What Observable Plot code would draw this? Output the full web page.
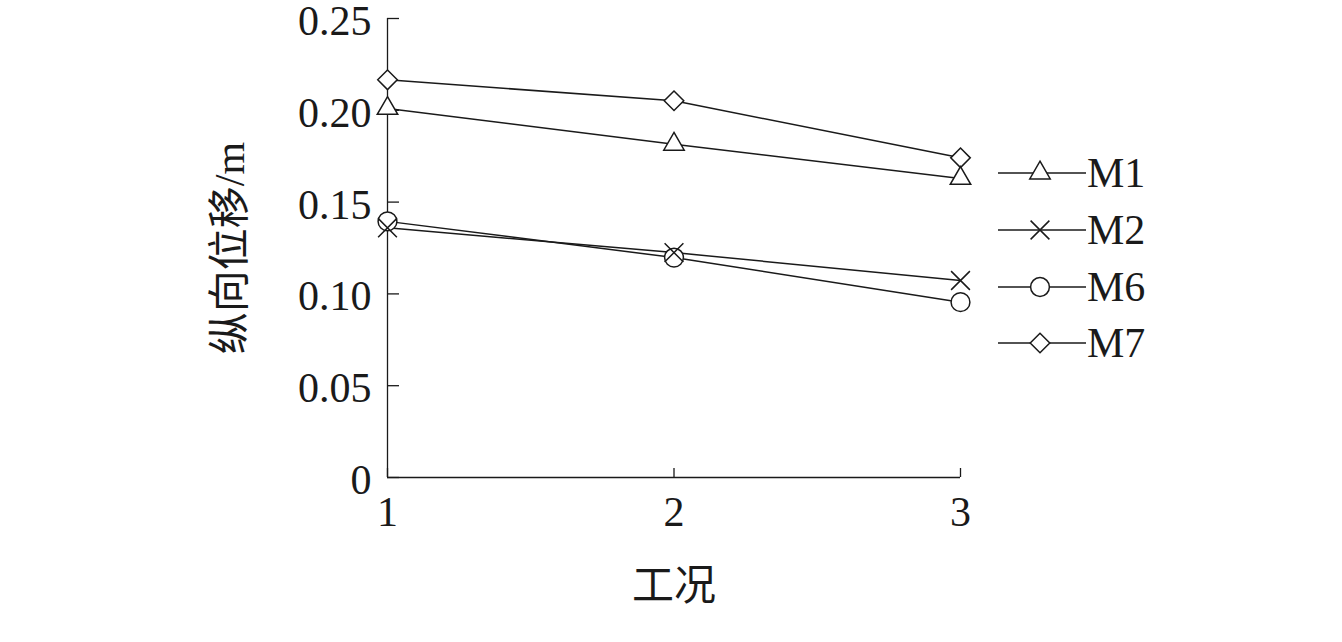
<!DOCTYPE html>
<html>
<head>
<meta charset="utf-8">
<script src="https://cdn.jsdelivr.net/npm/d3@7"></script>
<script src="https://cdn.jsdelivr.net/npm/@observablehq/plot@0.6"></script>
<style>
  html, body { margin: 0; padding: 0; background: #fff; }
  #wrap { position: relative; width: 1342px; height: 642px; }
  .leg { position: absolute; left: 998px; height: 40px; display: flex; align-items: center;
         font-family: 'Liberation Serif', 'Times New Roman', serif; font-size: 42px; color: #1a1a1a; }
  .leg svg { display: block; }
  .leg span { margin-left: 1px; line-height: 40px; }
</style>
</head>
<body>
<div id="wrap"></div>
<script>
// ---- data ----
const cases = [1, 2, 3];
const seriesNames = ["M1", "M2", "M6", "M7"];
const M1 = [0.201, 0.1815, 0.1629];
const M2 = [0.1360, 0.1225, 0.1073];
const M6 = [0.1395, 0.1198, 0.0955];
const M7 = [0.2166, 0.2052, 0.1741];
const seriesSymbols = ["triangle", "times", "circle", "diamond2"];
const seriesR = [7.6, 8.6, 9.4, 8.8];
const yTicks = [0, 0.05, 0.10, 0.15, 0.20, 0.25];
const yTickLabels = ["0", "0.05", "0.10", "0.15", "0.20", "0.25"];
const xTicks = [1, 2, 3];
const xTickLabels = ["1", "2", "3"];
const xLabel = "工况";
const yLabel = "纵向位移/m";

const values = [M1, M2, M6, M7];
const rows = [];
seriesNames.forEach((s, si) => {
  cases.forEach((c, ci) => rows.push({series: s, x: c, y: values[si][ci], symbol: seriesSymbols[si], r: seriesR[si]}));
});

const ink = "#1a1a1a";
const W = 1342, H = 642;
const mL = 387, mR = 382, mT = 18, mB = 165;
const frameW = W - mL - mR, frameH = H - mT - mB;

const chart = Plot.plot({
  width: W,
  height: H,
  marginLeft: mL,
  marginRight: mR,
  marginTop: mT,
  marginBottom: mB,
  style: {
    fontFamily: "'Liberation Serif', 'Times New Roman', 'Noto Sans CJK SC', serif",
    fontSize: "42px",
    color: ink,
    background: "#fff",
    overflow: "visible"
  },
  x: {domain: [1, 3]},
  y: {domain: [0, 0.25]},
  r: {type: "identity"},
  symbol: {type: "identity"},
  marks: [
    // inward tick marks
    Plot.tickY(yTicks, {y: d => d, insetRight: frameW - 12, stroke: ink, strokeWidth: 1.3}),
    Plot.tickX(xTicks, {x: d => d, insetTop: frameH - 9, stroke: ink, strokeWidth: 1.3}),
    // axis lines
    Plot.ruleX([1], {stroke: ink, strokeWidth: 1.3}),
    Plot.ruleY([0], {stroke: ink, strokeWidth: 1.3}),
    Plot.axisY({
      ticks: yTicks, tickSize: 0, tickPadding: 16, dy: 3,
      tickFormat: d => yTickLabels[yTicks.indexOf(d)],
      label: yLabel, labelAnchor: "center", labelArrow: "none", labelOffset: 173,
      fontSize: 42
    }),
    Plot.axisX({
      ticks: xTicks, tickSize: 0, tickPadding: 19,
      tickFormat: d => xTickLabels[xTicks.indexOf(d)],
      label: xLabel, labelAnchor: "center", labelArrow: "none", labelOffset: 122,
      fontSize: 42
    }),
    // series lines
    Plot.line(rows, {x: "x", y: "y", z: "series", stroke: ink, strokeWidth: 1.5}),
    // markers
    Plot.dot(rows, {x: "x", y: "y", symbol: "symbol", r: "r", fill: "#fff", stroke: ink, strokeWidth: 1.5})
  ]
});

const wrap = document.getElementById("wrap");
wrap.appendChild(chart);

// ---- legend (HTML) ----
const legTop0 = 153.3, legStep = 56.7;
seriesNames.forEach((s, i) => {
  const row = document.createElement("div");
  row.className = "leg";
  row.style.top = (legTop0 + i * legStep) + "px";
  const symType = Plot.scale({symbol: {domain: [seriesSymbols[i]], range: [seriesSymbols[i]]}}).apply(seriesSymbols[i]) || d3.symbolCircle;
  const sym = d3.symbol(symType, Math.PI * seriesR[i] * seriesR[i]);
  const svg = d3.create("svg").attr("width", 88).attr("height", 40);
  svg.append("line").attr("x1", 0).attr("x2", 88).attr("y1", 20).attr("y2", 20)
    .attr("stroke", ink).attr("stroke-width", 1.5);
  svg.append("path").attr("d", sym()).attr("transform", "translate(42,20)")
    .attr("fill", "#fff").attr("stroke", ink).attr("stroke-width", 1.5);
  row.appendChild(svg.node());
  const t = document.createElement("span");
  t.textContent = s;
  row.appendChild(t);
  wrap.appendChild(row);
});
</script>
</body>
</html>
